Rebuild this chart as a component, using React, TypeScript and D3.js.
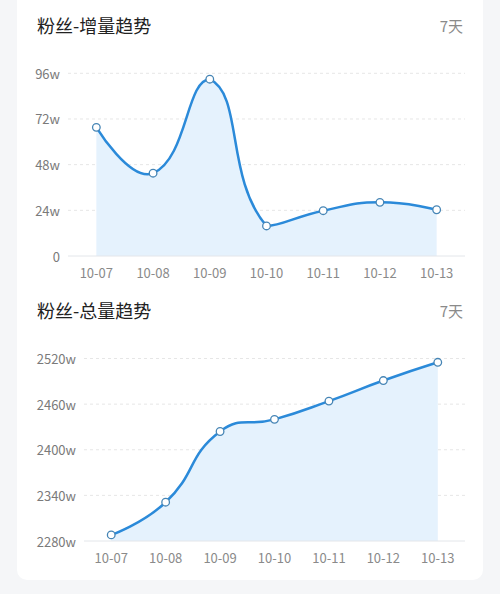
import * as d3 from 'd3'

const dates = ['10-07', '10-08', '10-09', '10-10', '10-11', '10-12', '10-13']
const incrementValues = [67.6, 43.5, 92.9, 15.8, 23.8, 28.2, 24.3]
const incrementTicks = [0, 24, 48, 72, 96]
const totalValues = [2288, 2331, 2424, 2440, 2464, 2491, 2515]
const totalTicks = [2280, 2340, 2400, 2460, 2520]

const font = '"Noto Sans CJK SC", "Noto Sans", sans-serif'
const lineColor = '#2b8ad9'
const areaColor = '#e5f2fd'

// echarts-like smooth bezier (control points clamped to the points' bounding box)
const smoothPath = (pts: [number, number][], smooth = 0.5) => {
  const minY = d3.min(pts, (p) => p[1])!
  const maxY = d3.max(pts, (p) => p[1])!
  const minX = pts[0][0]
  const maxX = pts[pts.length - 1][0]
  const cps: [number, number][] = []
  pts.forEach((p, i) => {
    if (i === 0 || i === pts.length - 1) {
      cps.push([p[0], p[1]])
      return
    }
    const prev = pts[i - 1]
    const next = pts[i + 1]
    const vx = (next[0] - prev[0]) * smooth
    const vy = (next[1] - prev[1]) * smooth
    let d0 = Math.hypot(p[0] - prev[0], p[1] - prev[1])
    let d1 = Math.hypot(p[0] - next[0], p[1] - next[1])
    const sum = d0 + d1
    d0 /= sum
    d1 /= sum
    const clamp = (c: [number, number]): [number, number] => [
      Math.max(minX, Math.min(maxX, c[0])),
      Math.max(minY, Math.min(maxY, c[1])),
    ]
    cps.push(clamp([p[0] - vx * d0, p[1] - vy * d0]))
    cps.push(clamp([p[0] + vx * d1, p[1] + vy * d1]))
  })
  const path = d3.path()
  path.moveTo(pts[0][0], pts[0][1])
  for (let i = 1; i < pts.length; i++) {
    const c0 = cps[(i - 1) * 2]
    const c1 = cps[(i - 1) * 2 + 1]
    path.bezierCurveTo(c0[0], c0[1], c1[0], c1[1], pts[i][0], pts[i][1])
  }
  return path.toString()
}

interface TrendProps {
  title: string
  top: number
  values: number[]
  ticks: number[]
  left: number
  yTop: number
  yBottom: number
  tickLabel: (v: number) => string
}

const Trend = ({ title, top, values, ticks, left, yTop, yBottom, tickLabel }: TrendProps) => {
  const right = 465
  const x = d3.scaleBand<string>().domain(dates).range([left, right])
  const y = d3
    .scaleLinear()
    .domain([ticks[0], ticks[ticks.length - 1]])
    .range([yBottom, yTop])

  const pts: [number, number][] = values.map((v, i) => [
    x(dates[i])! + x.bandwidth() / 2,
    y(v),
  ])
  const line = smoothPath(pts)
  const area =
    line +
    `L${pts[pts.length - 1][0]},${y(ticks[0])}L${pts[0][0]},${y(ticks[0])}Z`

  return (
    <g>
      <text x={37} y={top} fontSize={18} fill="#222" fontFamily={font} dominantBaseline="central">
        {title}
      </text>
      <text x={463} y={top} fontSize={15} fill="#8a8a8a" fontFamily={font} textAnchor="end" dominantBaseline="central">
        7天
      </text>
      {ticks.map((t, i) => (
        <g key={t}>
          {i > 0 && (
            <line x1={left} x2={right} y1={y(t)} y2={y(t)} stroke="#e6e6e6" strokeDasharray="3,3" />
          )}
          <text
            x={left - 8}
            y={y(t)}
            fontSize={13}
            fill="#7a7a7a"
            fontFamily={font}
            textAnchor="end"
            dominantBaseline="central"
          >
            {tickLabel(t)}
          </text>
        </g>
      ))}
      <path d={area} fill={areaColor} />
      <line x1={left} x2={right} y1={y(ticks[0])} y2={y(ticks[0])} stroke="#e3e6ea" strokeWidth={1} />
      <path d={line} fill="none" stroke={lineColor} strokeWidth={2.5} />
      {pts.map((p, i) => (
        <circle key={dates[i]} cx={p[0]} cy={p[1]} r={3.8} fill="#fff" stroke="#4685b5" strokeWidth={1.3} />
      ))}
      {dates.map((d) => (
        <text
          key={d}
          x={x(d)! + x.bandwidth() / 2}
          y={y(ticks[0]) + 16}
          fontSize={13}
          fill="#8a8a8a"
          fontFamily={font}
          textAnchor="middle"
          dominantBaseline="central"
        >
          {d}
        </text>
      ))}
    </g>
  )
}

export default function App() {
  return (
    <svg
      width={500}
      height={594}
      style={{ position: 'absolute', left: 0, top: 0 }}
    >
      <rect width={500} height={594} fill="#f5f6f8" />
      <rect x={17} y={-20} width={466} height={600} rx={10} fill="#fff" />
      <Trend
        title="粉丝-增量趋势"
        top={25}
        values={incrementValues}
        ticks={incrementTicks}
        left={68}
        yTop={73.3}
        yBottom={256}
        tickLabel={(v) => (v === 0 ? '0' : `${v}w`)}
      />
      <Trend
        title="粉丝-总量趋势"
        top={310}
        values={totalValues}
        ticks={totalTicks}
        left={84}
        yTop={358.5}
        yBottom={541}
        tickLabel={(v) => `${v}w`}
      />
    </svg>
  )
}
